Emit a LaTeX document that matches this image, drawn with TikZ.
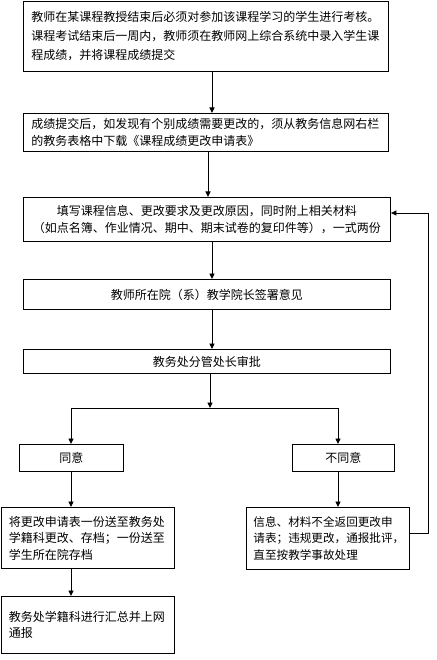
\documentclass[tikz,border=0pt]{standalone}
\usepackage{fontspec}
\newfontfamily\cjk{Noto Sans CJK SC}
\usetikzlibrary{arrows.meta}
\begin{document}
\begin{tikzpicture}[x=1pt,y=-1pt,
  box/.style={draw=black,line width=0.9pt,anchor=north west,inner xsep=8pt,inner ysep=0pt,
    font=\cjk\fontsize{12}{16.5}\selectfont},
  arr/.style={draw=black,line width=0.9pt,-{Triangle[width=5pt,length=5.5pt]}},
  ln/.style={draw=black,line width=0.9pt}]
\useasboundingbox (0,0) rectangle (436,660);
\node[box,minimum width=365,minimum height=70,text width=349,align=left,
  font=\cjk\fontsize{12}{19}\selectfont] (b1) at (23,1)
  {教师在某课程教授结束后必须对参加该课程学习的学生进行考核。\\课程考试结束后一周内，教师须在教师网上综合系统中录入学生课\\程成绩，并将课程成绩提交};
\node[box,minimum width=365,minimum height=38,text width=349,align=left] (b2) at (23,113)
  {成绩提交后，如发现有个别成绩需要更改的，须从教务信息网右栏\\的教务表格中下载《课程成绩更改申请表》};
\node[box,minimum width=367,minimum height=44,text width=351,align=center] (b3) at (23,197)
  {填写课程信息、更改要求及更改原因，同时附上相关材料\\（如点名簿、作业情况、期中、期末试卷的复印件等），一式两份};
\node[box,minimum width=367,minimum height=30,text width=351,align=center] (b4) at (23,279)
  {教师所在院（系）教学院长签署意见};
\node[box,minimum width=367,minimum height=24,text width=351,align=center] (b5) at (23,349)
  {教务处分管处长审批};
\node[box,minimum width=104,minimum height=27,text width=88,align=center] (yes) at (19,444)
  {同意};
\node[box,minimum width=102,minimum height=27,text width=86,align=center] (no) at (292,444)
  {不同意};
\node[box,minimum width=173,minimum height=61,text width=157,align=left] (b6) at (0.5,507)
  {将更改申请表一份送至教务处\\学籍科更改、存档；一份送至\\学生所在院存档};
\node[box,minimum width=163,minimum height=62,text width=149,inner xsep=7pt,align=left,
  font=\cjk\fontsize{11.6}{16.5}\selectfont] (b7) at (246,507)
  {信息、材料不全返回更改申\\请表；违规更改，通报批评，\\直至按教学事故处理};
\node[box,minimum width=173,minimum height=57,text width=157,align=left] (b8) at (0.5,596)
  {教务处学籍科进行汇总并上网\\通报};
\coordinate (x1) at (212,0);
\coordinate (x2) at (208,0);
\coordinate (x3) at (210,0);
\coordinate (split) at (210,408);
\coordinate (xl) at (71,0);
\coordinate (xr) at (338,0);
\coordinate (r1) at (428,533);
\coordinate (r2) at (428,213);
\draw[arr] (b1.south -| x1) -- (b2.north -| x1);
\draw[arr] (b2.south -| x2) -- (b3.north -| x2);
\draw[arr] (b3.south -| x1) -- (b4.north -| x1);
\draw[arr] (b4.south -| x1) -- (b5.north -| x1);
\draw[arr] (b5.south -| x3) -- (split);
\draw[ln] (split -| xl) -- (split -| xr);
\draw[arr] (split -| xl) -- (yes.north -| xl);
\draw[arr] (split -| xr) -- (no.north -| xr);
\draw[arr] (yes.south -| xl) -- (b6.north -| xl);
\draw[arr] (no.south -| xr) -- (b7.north -| xr);
\draw[arr] (b6.south -| xl) -- (b8.north -| xl);
\draw[arr] (b7.east |- r1) -- (r1) -- (r2) -- (b3.east |- r2);
\end{tikzpicture}
\end{document}
